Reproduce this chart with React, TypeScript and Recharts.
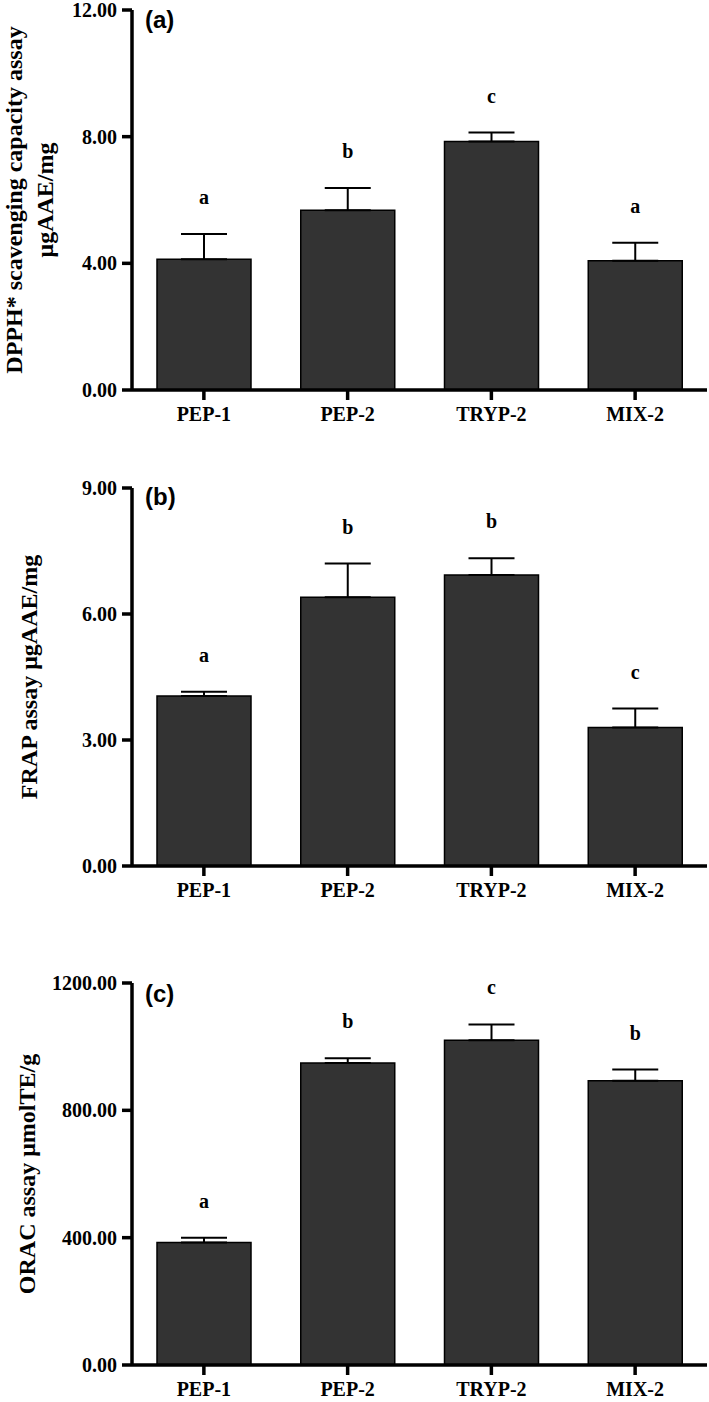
import React from "react"
import { Bar, BarChart, XAxis, YAxis, ErrorBar, LabelList } from "recharts"

const categories = ["PEP-1", "PEP-2", "TRYP-2", "MIX-2"]

const dpphMean = [4.13, 5.68, 7.85, 4.08]
const dpphErr = [0.8, 0.7, 0.28, 0.57]
const dpphLetters = ["a", "b", "c", "a"]
const dpphTicks = [0, 4, 8, 12]

const frapMean = [4.05, 6.4, 6.93, 3.3]
const frapErr = [0.1, 0.8, 0.4, 0.45]
const frapLetters = ["a", "b", "b", "c"]
const frapTicks = [0, 3, 6, 9]

const oracMean = [385, 949, 1020, 893]
const oracErr = [15, 15, 50, 35]
const oracLetters = ["a", "b", "c", "b"]
const oracTicks = [0, 400, 800, 1200]

const serif = "'Liberation Serif', 'Times New Roman', serif"
const sans = "'Liberation Sans', Arial, sans-serif"

type PanelProps = {
  mean: number[]
  err: number[]
  letters: string[]
  ticks: number[]
  top: number
  height: number
  marginTop: number
  marginBottom: number
}

function Panel({ mean, err, letters, ticks, top, height, marginTop, marginBottom }: PanelProps) {
  const data = categories.map((name, i) => ({
    name,
    value: mean[i],
    err: [0, err[i]],
    letter: letters[i],
  }))

  // letter sits ~37px above the top of the error bar
  const renderLetter = (props: any) => {
    const { x, y, width, height: h, index, value } = props
    const errPx = (err[index] * h) / mean[index]
    return (
      <text
        x={x + width / 2}
        y={y - errPx - 37}
        textAnchor="middle"
        dominantBaseline="central"
        fontFamily={serif}
        fontWeight="bold"
        fontSize={20}
        fill="#000"
      >
        {value}
      </text>
    )
  }

  return (
    <div style={{ position: "absolute", left: 0, top }}>
      <BarChart
        width={709}
        height={height}
        data={data}
        margin={{ top: marginTop, right: 2, bottom: marginBottom, left: 0 }}
        barCategoryGap={0}
      >
        <XAxis
          dataKey="name"
          height={36}
          axisLine={{ stroke: "#000", strokeWidth: 3.5 }}
          tickLine={{ stroke: "#000", strokeWidth: 3.5 }}
          tickSize={10}
          tickMargin={7}
          tick={{ fill: "#000", fontFamily: serif, fontWeight: "bold", fontSize: 20 }}
          interval={0}
        />
        <YAxis
          width={132}
          domain={[ticks[0], ticks[ticks.length - 1]]}
          ticks={ticks}
          interval={0}
          tickFormatter={(v: number) => v.toFixed(2)}
          axisLine={{ stroke: "#000", strokeWidth: 3.5 }}
          tickLine={{ stroke: "#000", strokeWidth: 3.5 }}
          tickSize={10}
          tickMargin={5}
          tick={{ fill: "#000", fontFamily: serif, fontWeight: "bold", fontSize: 20 }}
        />
        <Bar dataKey="value" fill="#333333" stroke="#000" strokeWidth={1.5} barSize={94} isAnimationActive={false}>
          <ErrorBar dataKey="err" width={23} stroke="#000" strokeWidth={2} direction="y" />
          <LabelList dataKey="letter" content={renderLetter} />
        </Bar>
      </BarChart>
    </div>
  )
}

export default function App() {
  const titleStyle = { fontFamily: serif, fontWeight: "bold" as const, fontSize: 24, fill: "#000" }
  const tagStyle = { fontFamily: sans, fontWeight: "bold" as const, fontSize: 24, fill: "#000" }
  return (
    <div style={{ position: "absolute", left: 0, top: 0, width: 709, height: 1402, background: "#fff" }}>
      <Panel mean={dpphMean} err={dpphErr} letters={dpphLetters} ticks={dpphTicks}
        top={0} height={450} marginTop={10} marginBottom={24} />
      <Panel mean={frapMean} err={frapErr} letters={frapLetters} ticks={frapTicks}
        top={450} height={490} marginTop={38} marginBottom={38} />
      <Panel mean={oracMean} err={oracErr} letters={oracLetters} ticks={oracTicks}
        top={940} height={462} marginTop={43} marginBottom={1} />
      <svg width={709} height={1402} style={{ position: "absolute", left: 0, top: 0, pointerEvents: "none" }}>
        <text transform="translate(14,200) rotate(-90)" textAnchor="middle" dominantBaseline="central" {...titleStyle}>
          DPPH* scavenging capacity assay
        </text>
        <text transform="translate(45,200) rotate(-90)" textAnchor="middle" dominantBaseline="central" {...titleStyle}>
          μgAAE/mg
        </text>
        <text transform="translate(29,677) rotate(-90)" textAnchor="middle" dominantBaseline="central" {...titleStyle}>
          FRAP assay μgAAE/mg
        </text>
        <text transform="translate(27,1174) rotate(-90)" textAnchor="middle" dominantBaseline="central" {...titleStyle}>
          ORAC assay μmolTE/g
        </text>
        <text x={145} y={19} dominantBaseline="central" {...tagStyle}>(a)</text>
        <text x={145} y={496} dominantBaseline="central" {...tagStyle}>(b)</text>
        <text x={145} y={993} dominantBaseline="central" {...tagStyle}>(c)</text>
      </svg>
    </div>
  )
}
